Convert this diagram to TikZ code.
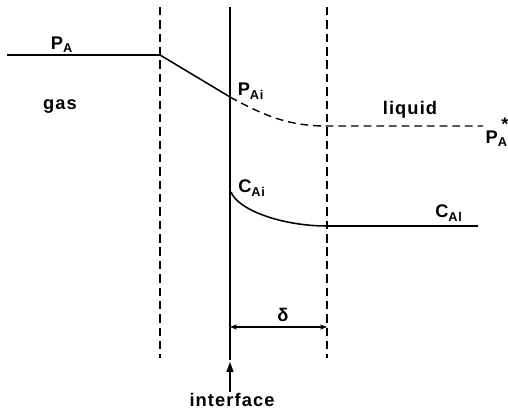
\documentclass[tikz,border=0pt]{standalone}
\usepackage{fontspec}
\setmainfont{Liberation Sans}[LetterSpace=6]
\usetikzlibrary{arrows.meta}

\begin{document}
\begin{tikzpicture}[x=0.025cm,y=-0.025cm,
  wall/.style={line width=1.4pt},
  film/.style={line width=1pt,dash pattern=on 6pt off 3.5pt},
  profile/.style={line width=1.1pt},
  liqprofile/.style={line width=1pt,dash pattern=on 5.5pt off 3.5pt},
  lbl/.style={font=\fontsize{13}{15}\selectfont\bfseries,inner sep=1pt}
]
  \useasboundingbox (0,0) rectangle (508,412);

  % film boundaries and interface
  \coordinate (gtop) at (160,7);   \coordinate (gbot) at (160,358);
  \coordinate (itop) at (230,7);   \coordinate (ibot) at (230,360);
  \coordinate (ltop) at (327,7);   \coordinate (lbot) at (327,358);
  \draw[film] (gtop) -- (gbot);
  \draw[film] (ltop) -- (lbot);
  \draw[wall] (itop) -- (ibot);

  % gas side partial pressure
  \coordinate (pa0) at (7,55);
  \coordinate (pa1) at (160,55);
  \coordinate (pai) at (230,97);
  \coordinate (pas) at (327,126);
  \coordinate (pae) at (483,126);
  \draw[profile] (pa0) -- (pa1) -- (pai);
  \draw[liqprofile] (pai) .. controls (268,118) and (292,126) .. (pas) -- (pae);

  % liquid side concentration
  \coordinate (cai) at (231,192);
  \coordinate (cas) at (327,226);
  \coordinate (cae) at (478,226);
  \draw[profile] (cai) .. controls (238,210) and (282,226) .. (cas) -- (cae);

  % labels
  \node[lbl] (lpa) at (62,45) {P\textsubscript{A}};
  \node[lbl] (lgas) at (60,107) {gas};
  \node[lbl] (lpai) at (251,91) {P\textsubscript{Ai}};
  \node[lbl] (lliq) at (410,110) {liquid};
  \node[lbl] (lpas) at (497,132) {P\textsubscript{A}\raisebox{1.3ex}{\kern-0.35em*}};
  \node[lbl] (lcai) at (252,188) {C\textsubscript{Ai}};
  \node[lbl] (lcal) at (449,213) {C\textsubscript{Al}};

  % film thickness
  \coordinate (d0) at (230,327);
  \coordinate (d1) at (327,327);
  \draw[line width=0.9pt,{Stealth[length=5pt]}-{Stealth[length=5pt]}] (d0) -- (d1);
  \node[lbl] (ldel) at (283,315) {δ};

  % interface pointer
  \node[lbl] (lint) at (232,400) {interface};
  \coordinate (iarr) at (230,362);
  \draw[line width=0.9pt,-{Triangle[length=7pt,width=5pt]}] (lint.north -| iarr) -- (iarr);
\end{tikzpicture}
\end{document}
